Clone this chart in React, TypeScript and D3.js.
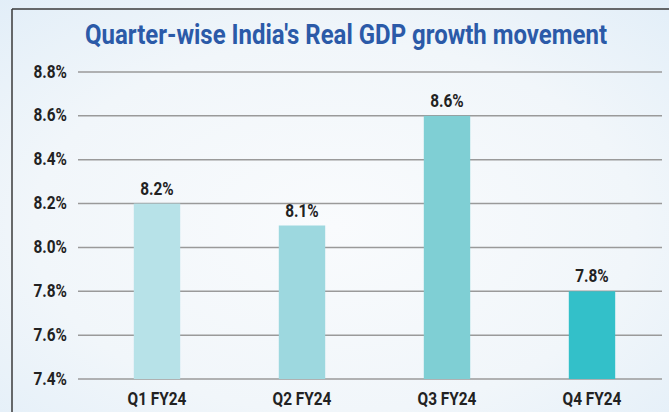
import React from "react";
import * as d3 from "d3";

const categories = ["Q1 FY24", "Q2 FY24", "Q3 FY24", "Q4 FY24"];
const values = [8.2, 8.1, 8.6, 7.8];
const barColors = ["#b7e2e8", "#9dd8df", "#7fcfd4", "#33c0c9"];
const yTicks = [7.4, 7.6, 7.8, 8.0, 8.2, 8.4, 8.6, 8.8];
const title = "Quarter-wise India's Real GDP growth movement";

const W = 669;
const H = 412;
const font = "Roboto, 'DejaVu Sans', sans-serif";

function CText({ x, y, anchor, children, size = 17.5, sx = 0.88 }: any) {
  return (
    <text
      transform={`translate(${x},${y}) scale(${sx},1)`}
      textAnchor={anchor}
      fontFamily={font}
      fontWeight={700}
      fontSize={size}
      fill="#222"
    >
      {children}
    </text>
  );
}

export default function App() {
  const x = d3
    .scaleBand<string>()
    .domain(categories)
    .range([84.5, 664.5])
    .paddingInner(0.68)
    .paddingOuter(0.34);
  const y = d3.scaleLinear().domain([7.4, 8.8]).range([379, 72]);
  const titleScale = 0.82;

  return (
    <svg
      width={W}
      height={H}
      style={{ position: "absolute", left: 0, top: 0, display: "block" }}
      xmlns="http://www.w3.org/2000/svg"
    >
      <defs>
        <radialGradient id="bg" cx="0.5" cy="0.55" r="0.75">
          <stop offset="0" stopColor="#f9fbfd" />
          <stop offset="0.6" stopColor="#f1f6fa" />
          <stop offset="1" stopColor="#e2eef8" />
        </radialGradient>
      </defs>
      <rect x={0} y={0} width={W} height={H} fill="url(#bg)" />
      <line x1={12} y1={9} x2={W} y2={9} stroke="#3a3a3a" strokeWidth={1.5} />
      <line x1={12} y1={9} x2={12} y2={H} stroke="#3a3a3a" strokeWidth={1.5} />

      <text
        transform={`translate(346,44) scale(${titleScale},1)`}
        textAnchor="middle"
        fontFamily={font}
        fontWeight={700}
        fontSize={27}
        fill="#2b5aa8"
        textLength={522 / titleScale}
        lengthAdjust="spacingAndGlyphs"
      >
        {title}
      </text>

      {yTicks.map((t) => (
        <g key={t}>
          <line
            x1={78}
            x2={662}
            y1={y(t)}
            y2={y(t)}
            stroke="#9a9a9a"
            strokeWidth={1.5}
          />
          <CText x={67} y={y(t) + 5.5} anchor="end">
            {t.toFixed(1)}%
          </CText>
        </g>
      ))}

      {categories.map((c, i) => {
        const cx = (x(c) as number) + x.bandwidth() / 2;
        return (
          <g key={c}>
            <rect
              x={x(c)}
              y={y(values[i])}
              width={x.bandwidth()}
              height={y(7.4) - y(values[i])}
              fill={barColors[i]}
            />
            <CText x={cx} y={y(values[i]) - 9} anchor="middle">
              {values[i].toFixed(1)}%
            </CText>
            <CText x={cx} y={405} anchor="middle">
              {c}
            </CText>
          </g>
        );
      })}
    </svg>
  );
}
